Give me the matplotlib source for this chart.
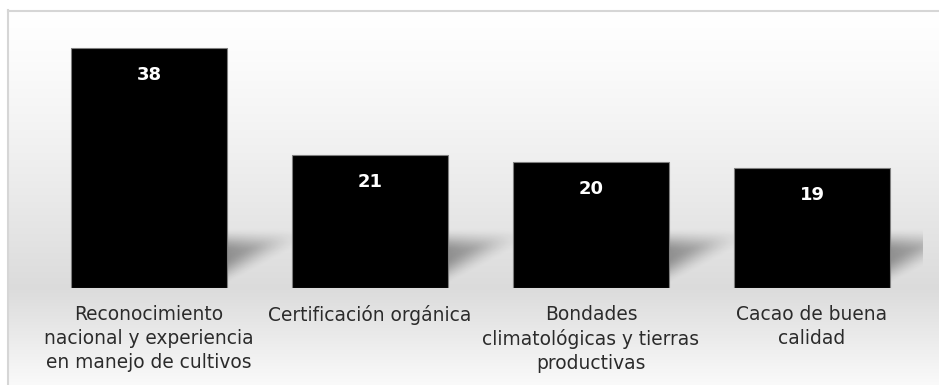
import numpy as np
import matplotlib
matplotlib.use("Agg")
import matplotlib.pyplot as plt

categorias = [
    "Reconocimiento\nnacional y experiencia\nen manejo de cultivos",
    "Certificación orgánica",
    "Bondades\nclimatológicas y tierras\nproductivas",
    "Cacao de buena\ncalidad",
]
valores = [38, 21, 20, 19]

W, H = 939, 385
fig = plt.figure(figsize=(W / 100, H / 100), dpi=100)
fig.patch.set_facecolor("white")

# background layer in pixel coordinates
bg = fig.add_axes([0, 0, 1, 1])
bg.set_xlim(0, W)
bg.set_ylim(H, 0)
bg.axis("off")

# vertical gradient: white top, grey near the floor, lighter again below
ys = np.arange(10, H) + 0.5
tono = np.where(ys <= 288,
                1.0 - ((ys - 10) / 278) ** 1.3 * 0.14,
                0.86 + (ys - 288) / 97 * 0.12)
grad = np.repeat(tono[:, None, None], 3, axis=2)
bg.imshow(grad, aspect="auto", extent=[8, W, H, 10],
          interpolation="nearest", zorder=0)
bg.plot([8, W], [10.5, 10.5], color="#d6d6d6", lw=1.5, zorder=1)
bg.plot([8, 8], [10, H], color="#d6d6d6", lw=1.5, zorder=1)

# bar axes
base_px, top_px = 288, 10
left_px, right_px = 38.5, 922.5
ax = fig.add_axes([left_px / W, (H - base_px) / H,
                   (right_px - left_px) / W, (base_px - top_px) / H])
ax.patch.set_alpha(0)
ax.set_xlim(-0.5, 3.5)
ax.set_ylim(0, 44)
ax.axis("off")

x = np.arange(len(valores))
ancho = 0.71


def paso(t):
    t = np.clip(t, 0, 1)
    return t * t * (3 - 2 * t)


# soft shadow to the right of each bar, diagonal lower edge
sx = np.linspace(0, 1, 80)
sy = np.linspace(0, 1, 60)
XX, YY = np.meshgrid(sx, sy)
borde_inf = 0.05 + 0.55 * XX
sombra = (paso((1.0 - YY) / 0.4) * paso((YY - borde_inf) / 0.45)
          * (1 - 0.55 * XX))
rgba = np.zeros((60, 80, 4))
rgba[..., 3] = sombra * 0.36
for xi in x:
    x0 = xi + ancho / 2
    ax.imshow(rgba, extent=[x0, x0 + 0.29, 0, 9.6], origin="lower",
              aspect="auto", interpolation="bilinear", zorder=1)

barras = ax.bar(x, valores, width=ancho, color="black",
                edgecolor="#7f7f7f", linewidth=0.8, zorder=2)

for xi, v in zip(x, valores):
    ax.annotate(str(v), (xi, v), xytext=(0, -19.5), textcoords="offset points",
                ha="center", va="center", color="white", fontsize=13,
                fontweight="bold", family="DejaVu Sans", zorder=3)

for xi, etiqueta in zip(x, categorias):
    ax.annotate(etiqueta, (xi, 0), xytext=(0, -12), textcoords="offset points",
                ha="center", va="top", color="#2b2b2b", fontsize=13.4,
                family="DejaVu Sans", linespacing=1.34, annotation_clip=False)

fig.savefig("out.png", dpi=100)
